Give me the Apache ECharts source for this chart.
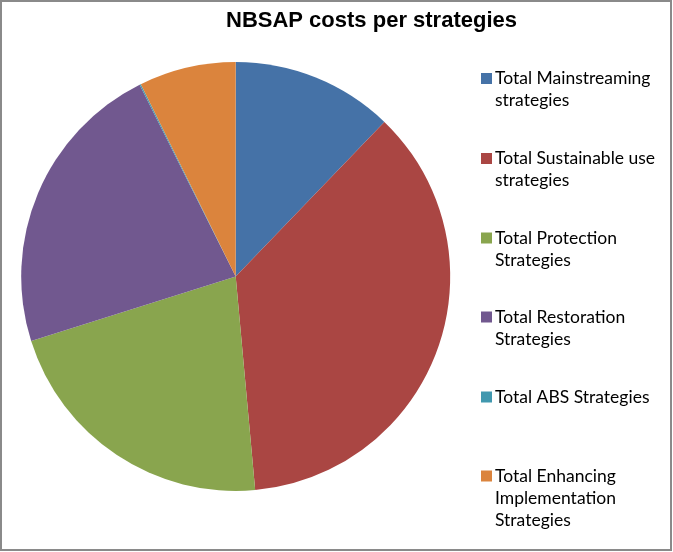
<!DOCTYPE html>
<html>
<head>
<meta charset="utf-8">
<script src="https://cdn.jsdelivr.net/npm/echarts@6/dist/echarts.min.js"></script>
<style>
  html, body { margin: 0; padding: 0; background: #fff; }
  #chart { width: 673px; height: 552px; }
</style>
</head>
<body>
<div id="chart"></div>
<script>
// Strategy groups and their share of NBSAP costs (%)
const categories = [
  'Total Mainstreaming\nstrategies',
  'Total Sustainable use\nstrategies',
  'Total Protection\nStrategies',
  'Total Restoration\nStrategies',
  'Total ABS Strategies',
  'Total Enhancing\nImplementation\nStrategies'
];
const costs = [12.2, 36.4, 21.6, 22.5, 0.1, 7.3];
const colors = ['#4572A7', '#AA4643', '#89A54E', '#71588F', '#4198AF', '#DB843D'];

const chart = echarts.init(document.getElementById('chart'), null, { renderer: 'canvas' });

const LINE = 22;               // legend text line height
const legendCenters = [78.5, 158.5, 238, 317, 397, 476];

// One legend block per strategy so every entry sits on its own fixed row.
// Blank lines are prepended so the text block is centred on its first line,
// which keeps the colour square level with that line.
const legends = categories.map((name, i) => {
  const n = name.split('\n').length;
  return {
    data: [name],
    orient: 'vertical',
    left: 481,
    top: legendCenters[i] - (2 * n - 1) * LINE / 2,
    padding: 0,
    icon: 'rect',
    itemWidth: 11,
    itemHeight: 11,
    itemGap: 0,
    selectedMode: false,
    formatter: (label) => '\n'.repeat(n - 1) + label,
    textStyle: {
      fontFamily: 'Lato',
      fontSize: 17.5,
      color: '#000',
      lineHeight: LINE,
      padding: [0, 0, 0, -2]
    }
  };
});

chart.setOption({
  animation: false,
  backgroundColor: '#fff',
  color: colors,
  title: {
    text: 'NBSAP costs per strategies',
    left: 226,
    top: 10,
    padding: 0,
    textStyle: {
      fontFamily: 'Liberation Sans',
      fontWeight: 'bold',
      fontSize: 22,
      color: '#000'
    }
  },
  legend: legends,
  graphic: [{
    type: 'rect',
    shape: { x: 1, y: 1, width: 670, height: 549 },
    style: { fill: 'none', stroke: '#8a8a8a', lineWidth: 2 },
    silent: true,
    z: 100
  }],
  series: [{
    type: 'pie',
    center: [235.7, 276.5],
    radius: 214.5,
    startAngle: 90,
    clockwise: true,
    label: { show: false },
    labelLine: { show: false },
    emphasis: { disabled: true },
    itemStyle: { borderWidth: 0 },
    data: categories.map((name, i) => ({ name: name, value: costs[i] }))
  }]
});
</script>
</body>
</html>
